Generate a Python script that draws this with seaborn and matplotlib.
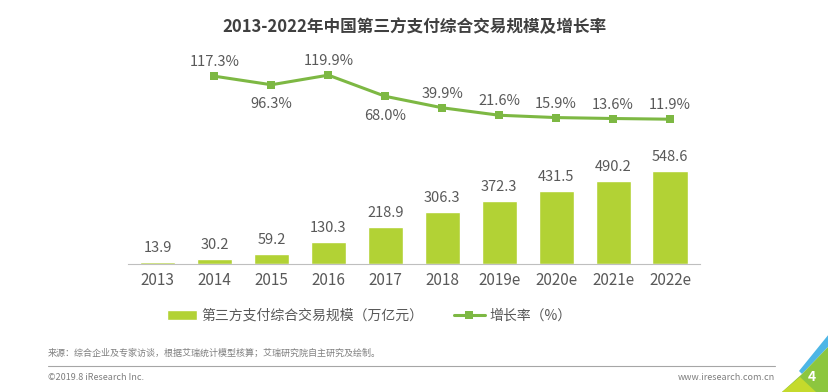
import numpy as np
import pandas as pd
import seaborn as sns
import matplotlib.pyplot as plt
from matplotlib.patches import Polygon

# chart data
years = ['2013', '2014', '2015', '2016', '2017', '2018', '2019e', '2020e', '2021e', '2022e']
scale = [13.9, 30.2, 59.2, 130.3, 218.9, 306.3, 372.3, 431.5, 490.2, 548.6]
growth_years = years[1:]
growth = [117.3, 96.3, 119.9, 68.0, 39.9, 21.6, 15.9, 13.6, 11.9]
growth_label_below = [False, True, False, True, False, False, False, False, False]

title = '2013-2022年中国第三方支付综合交易规模及增长率'
bar_name = '第三方支付综合交易规模（万亿元）'
line_name = '增长率（%）'
source = '来源：综合企业及专家访谈，根据艾瑞统计模型核算；艾瑞研究院自主研究及绘制。'

BAR_COLOR = '#B2D235'
LINE_COLOR = '#7DB843'
TEXT = '#595959'

sns.set_style('white')
plt.rcParams['font.family'] = ['Noto Sans CJK SC', 'DejaVu Sans']

W, H = 829, 392
fig = plt.figure(figsize=(W / 100, H / 100), dpi=100)

def fx(px):
    return px / W

def fy(py):
    return 1 - py / H

# axes placed to match the reference pixel layout
ax = fig.add_axes([fx(128), fy(264), fx(700 - 128), fy(60) - fy(264)])
bars = pd.DataFrame({'year': years, 'scale': scale})
sns.barplot(data=bars, x='year', y='scale', color=BAR_COLOR, width=0.615,
            saturation=1, ax=ax, label=bar_name)
ax.set_xlim(-0.518, 9.527)
ax.set_ylim(0, 1203)
ax.set_xlabel('')
ax.set_ylabel('')
ax.set_yticks([])
for s in ['top', 'right', 'left']:
    ax.spines[s].set_visible(False)
ax.spines['bottom'].set_color('#BFBFBF')
ax.tick_params(axis='x', length=0, labelsize=11, labelcolor=TEXT, pad=6)
for i, v in enumerate(scale):
    ax.annotate(f'{v:.1f}', (i, v), xytext=(0, 5), textcoords='offset points',
                ha='center', va='bottom', fontsize=10.5, color=TEXT)

ax2 = ax.twinx()
line = pd.DataFrame({'pos': [years.index(y) for y in growth_years], 'growth': growth})
sns.lineplot(data=line, x='pos', y='growth', color=LINE_COLOR, linewidth=2.2,
             marker='s', markersize=6, markeredgewidth=0, ax=ax2, label=line_name)
ax2.set_ylim(-343, 157)
ax2.set_yticks([])
ax2.set_ylabel('')
for s in ax2.spines.values():
    s.set_visible(False)
for p, v, below in zip(line['pos'], growth, growth_label_below):
    ax2.annotate(f'{v:.1f}%', (p, v), xytext=(0, -9 if below else 5),
                 textcoords='offset points', ha='center',
                 va='top' if below else 'bottom', fontsize=10.5, color=TEXT)

# legend combined in figure coords
h1, l1 = ax.get_legend_handles_labels()
h2, l2 = ax2.get_legend_handles_labels()
if ax.get_legend():
    ax.get_legend().remove()
if ax2.get_legend():
    ax2.get_legend().remove()
fig.legend(h1 + h2, l1 + l2, loc='center', bbox_to_anchor=(fx(369), fy(316)),
           ncol=2, frameon=False, fontsize=10, labelcolor=TEXT,
           handlelength=2.2, handleheight=0.7, columnspacing=2.2, handletextpad=0.3)

fig.text(0.5, fy(27), title, ha='center', va='center', fontsize=12,
         fontweight='bold', color='#404040')

# footer
fig.text(fx(48), fy(353), source, ha='left', va='center', fontsize=6.5, color='#7F7F7F')
fig.add_artist(plt.Line2D([fx(48), fx(775)], [fy(366), fy(366)],
                          color='#A6A6A6', linewidth=0.8))
fig.text(fx(48), fy(378), '©2019.8 iResearch Inc.', ha='left', va='center',
         fontsize=6.5, color='#7F7F7F')
fig.text(fx(775), fy(378), 'www.iresearch.com.cn', ha='right', va='center',
         fontsize=6.5, color='#7F7F7F')

# corner decoration
def poly(pts, color):
    fig.add_artist(Polygon([(fx(x), fy(y)) for x, y in pts], closed=True,
                           transform=fig.transFigure, facecolor=color,
                           edgecolor='none'))

poly([(829, 334), (829, 346), (802, 374), (799, 371)], '#4DB6E6')
poly([(829, 346), (829, 392), (782, 392), (802, 374)], '#8CC63F')
poly([(782, 392), (800, 377), (816, 392)], '#C5DA2C')
fig.text(fx(812), fy(377), '4', ha='center', va='center', fontsize=10,
         color='white', fontweight='bold')

fig.savefig('out.png', dpi=100)
